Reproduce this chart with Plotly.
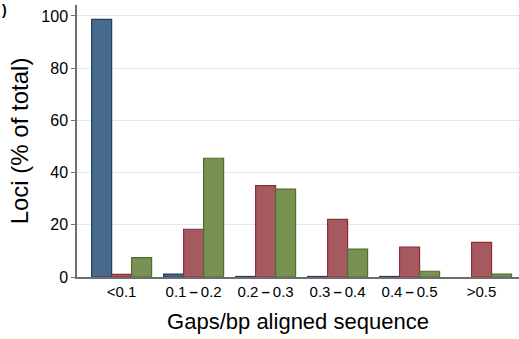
import plotly.graph_objects as go

categories = ["<0.1", "0.1\u2009<b>–</b>\u20090.2", "0.2\u2009<b>–</b>\u20090.3", "0.3\u2009<b>–</b>\u20090.4",
              "0.4\u2009<b>–</b>\u20090.5", ">0.5"]
series_a = [98.7, 1.1, 0.2, 0.2, 0.2, 0.0]
series_b = [1.0, 18.3, 35.0, 22.1, 11.5, 13.3]
series_c = [7.4, 45.5, 33.7, 10.7, 2.2, 1.1]
y_ticks = [0, 20, 40, 60, 80, 100]

fills = ["rgb(72,106,141)", "rgb(166,90,96)", "rgb(120,146,84)"]
edges = ["rgb(30,60,100)", "rgb(140,45,60)", "rgb(80,108,45)"]

fig = go.Figure()
for vals, fc, ec in zip([series_a, series_b, series_c], fills, edges):
    fig.add_trace(go.Bar(x=categories, y=vals,
                         marker=dict(color=fc, line=dict(color=ec, width=[1.2 if v > 0 else 0 for v in vals])),
                         showlegend=False))

font = "Liberation Sans, Arial, sans-serif"
fig.update_layout(
    width=519, height=339,
    margin=dict(l=77, r=0, t=5, b=62),
    paper_bgcolor="white", plot_bgcolor="white",
    barmode="group", bargap=0.167, bargroupgap=0,
    font=dict(family=font, color="black"),
    xaxis=dict(range=[-0.62, 5.52], showline=True, linecolor="rgb(110,110,110)", linewidth=1.5,
               ticks="", tickfont=dict(size=15), showgrid=False,
               title=dict(text="Gaps/bp aligned sequence", font=dict(size=22), standoff=15)),
    yaxis=dict(range=[0, 104.2], tickvals=y_ticks, showline=True, linecolor="rgb(110,110,110)", linewidth=1.5,
               ticks="outside", ticklen=4, tickcolor="rgb(110,110,110)", tickfont=dict(size=16),
               showgrid=True, gridcolor="rgb(221,232,240)", gridwidth=1, zeroline=False,
               title=dict(text="Loci (% of total)", font=dict(size=24), standoff=6)),
    annotations=[dict(text="<b>)</b>", x=0, y=1, xref="paper", yref="paper", xshift=-77, yshift=5,
                      showarrow=False, font=dict(size=14, color="black"), xanchor="left", yanchor="top")],
)
fig.write_html("out.html")
